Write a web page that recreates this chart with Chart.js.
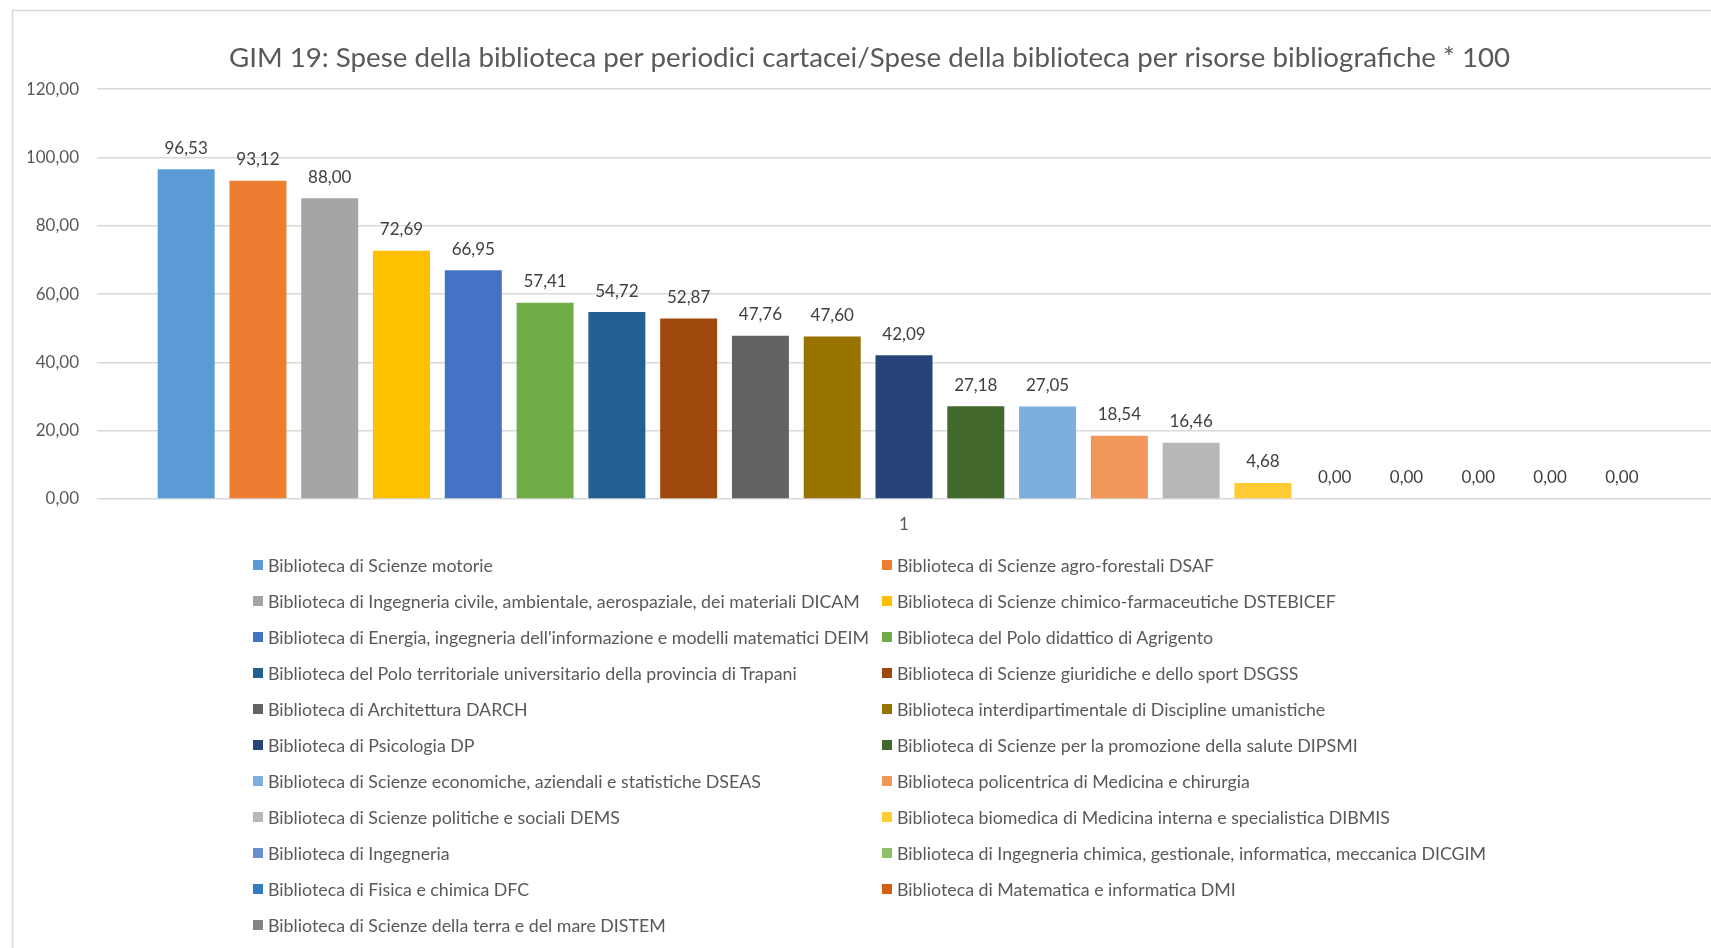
<!DOCTYPE html>
<html lang="it">
<head>
<meta charset="utf-8">
<title>GIM 19</title>
<script src="https://cdn.jsdelivr.net/npm/chart.js@4.4.1/dist/chart.umd.min.js"></script>
<style>
  html, body { margin: 0; padding: 0; background: #fff; overflow: hidden; }
  #wrap { position: relative; width: 1711px; height: 948px; }
  #chart { position: absolute; left: 0; top: 0; }
  #legend {
    position: absolute; left: 253px; top: 547px;
    display: grid; grid-template-columns: 629px auto; grid-auto-rows: 36px;
    font-family: Lato, "Open Sans", sans-serif; font-size: 17.8px; color: #595959;
  }
  #legend .item { display: flex; align-items: center; white-space: nowrap; }
  #legend .box { width: 10px; height: 10px; margin-right: 5px; flex: none; }
</style>
</head>
<body>
<div id="wrap">
  <canvas id="chart" width="1711" height="948"></canvas>
  <div id="legend"></div>
</div>
<script>
// categories (only one group on the x axis)
const categories = ['1'];

// libraries, in legend order
const libraries = [
  'Biblioteca di Scienze motorie',
  'Biblioteca di Scienze agro-forestali DSAF',
  'Biblioteca di Ingegneria civile, ambientale, aerospaziale, dei materiali DICAM',
  'Biblioteca di Scienze chimico-farmaceutiche DSTEBICEF',
  "Biblioteca di Energia, ingegneria dell'informazione e modelli matematici DEIM",
  'Biblioteca del Polo didattico di Agrigento',
  'Biblioteca del Polo territoriale universitario della provincia di Trapani',
  'Biblioteca di Scienze giuridiche e dello sport DSGSS',
  'Biblioteca di Architettura DARCH',
  'Biblioteca interdipartimentale di Discipline umanistiche',
  'Biblioteca di Psicologia DP',
  'Biblioteca di Scienze per la promozione della salute DIPSMI',
  'Biblioteca di Scienze economiche, aziendali e statistiche DSEAS',
  'Biblioteca policentrica di Medicina e chirurgia',
  'Biblioteca di Scienze politiche e sociali DEMS',
  'Biblioteca biomedica di Medicina interna e specialistica DIBMIS',
  'Biblioteca di Ingegneria',
  'Biblioteca di Ingegneria chimica, gestionale, informatica, meccanica DICGIM',
  'Biblioteca di Fisica e chimica DFC',
  'Biblioteca di Matematica e informatica DMI',
  'Biblioteca di Scienze della terra e del mare DISTEM'
];

// GIM 19 values
const values = [
  96.53, 93.12, 88.00, 72.69, 66.95, 57.41, 54.72, 52.87, 47.76, 47.60, 42.09,
  27.18, 27.05, 18.54, 16.46, 4.68, 0, 0, 0, 0, 0
];

// y axis ticks
const yTicks = [0, 20, 40, 60, 80, 100, 120];

// office palette
const palette = [
  '#5B9BD5', '#ED7D31', '#A5A5A5', '#FFC000', '#4472C4', '#70AD47', '#255E91',
  '#9E480E', '#636363', '#997300', '#264478', '#43682B', '#7CAFDD', '#F1975A',
  '#B7B7B7', '#FFCD33', '#698ED0', '#8CC168', '#327DC2', '#D26012', '#848484'
];

const FONT = 'Lato, "Open Sans", sans-serif';
const fmt = v => v.toFixed(2).replace('.', ',');

// data labels above each bar
const barLabels = {
  id: 'barLabels',
  afterDatasetsDraw(chart) {
    const ctx = chart.ctx;
    ctx.save();
    ctx.font = '17px ' + FONT;
    ctx.fillStyle = '#404040';
    ctx.textAlign = 'center';
    ctx.textBaseline = 'middle';
    chart.data.datasets.forEach((ds, i) => {
      const meta = chart.getDatasetMeta(i);
      meta.data.forEach((bar, j) => {
        ctx.fillText(fmt(ds.data[j]), bar.x, bar.y - 21);
      });
    });
    ctx.restore();
  }
};

// thin frame of the chart object (top + left edge visible)
const frame = {
  id: 'frame',
  beforeDraw(chart) {
    const ctx = chart.ctx;
    ctx.save();
    ctx.strokeStyle = '#d9d9d9';
    ctx.lineWidth = 1.5;
    ctx.beginPath();
    ctx.moveTo(12.5, chart.height);
    ctx.lineTo(12.5, 10.5);
    ctx.lineTo(chart.width, 10.5);
    ctx.stroke();
    ctx.restore();
  }
};

const chart = new Chart(document.getElementById('chart'), {
  type: 'bar',
  data: {
    labels: categories,
    datasets: libraries.map((name, i) => ({
      label: name,
      data: [values[i]],
      backgroundColor: palette[i],
      categoryPercentage: 0.934,
      barPercentage: 0.794
    }))
  },
  options: {
    responsive: false,
    animation: false,
    layout: { padding: { left: 28, right: 0, top: 0, bottom: 409 } },
    plugins: {
      legend: { display: false },
      tooltip: { enabled: false },
      title: {
        display: true,
        text: 'GIM 19: Spese della biblioteca per periodici cartacei/Spese della biblioteca per risorse bibliografiche * 100',
        color: '#595959',
        font: { family: FONT, size: 27.7, weight: 'normal' },
        padding: { top: 41.4, bottom: 14.4 }
      }
    },
    scales: {
      x: {
        grid: { display: false },
        border: { display: false },
        ticks: { color: '#595959', font: { family: FONT, size: 17 }, padding: 7.5 },
        afterFit(scale) { scale.height = 40; }
      },
      y: {
        min: 0,
        max: 120,
        afterBuildTicks(scale) { scale.ticks = yTicks.map(v => ({ value: v })); },
        grid: { color: '#d9d9d9', lineWidth: 1.5, drawTicks: false },
        border: { display: false },
        ticks: {
          color: '#595959',
          font: { family: FONT, size: 17 },
          padding: 18,
          callback: v => fmt(v)
        },
        afterFit(scale) { scale.width = 69; }
      }
    }
  },
  plugins: [frame, barLabels]
});

// html legend, two columns like the original
const legendEl = document.getElementById('legend');
chart.data.datasets.forEach(ds => {
  const item = document.createElement('div');
  item.className = 'item';
  const box = document.createElement('span');
  box.className = 'box';
  box.style.background = ds.backgroundColor;
  const txt = document.createElement('span');
  txt.textContent = ds.label;
  item.appendChild(box);
  item.appendChild(txt);
  legendEl.appendChild(item);
});
</script>
</body>
</html>
